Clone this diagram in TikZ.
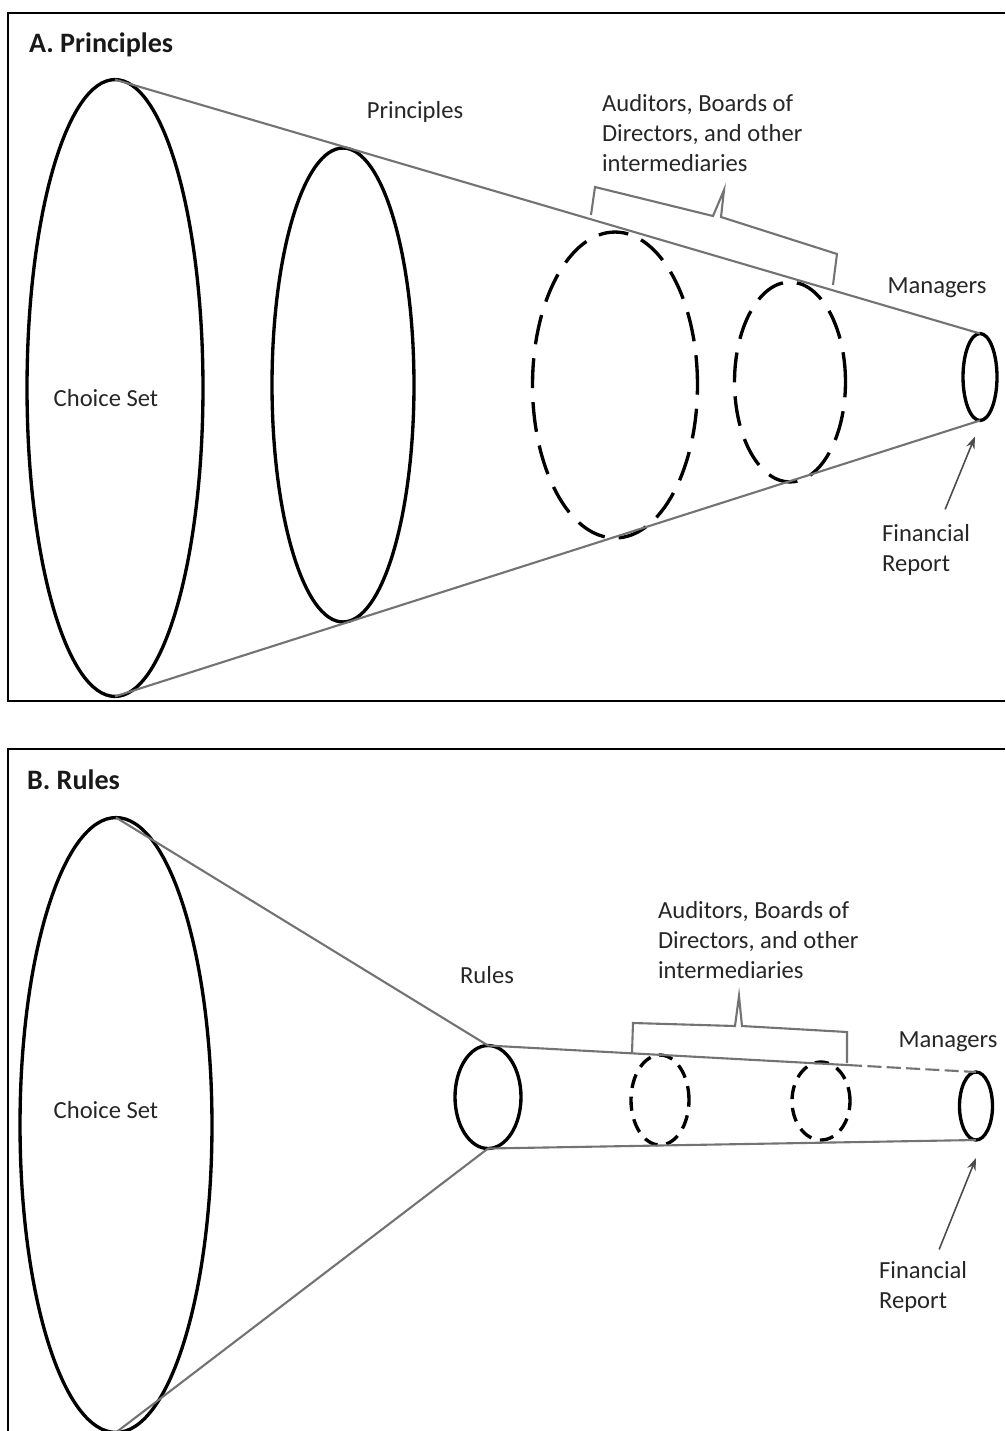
\documentclass[tikz,border=0pt]{standalone}
\usepackage{fontspec}
\setmainfont{Carlito}
\usetikzlibrary{shapes.geometric,arrows.meta,calc}

\begin{document}
\begin{tikzpicture}[x=0.02cm, y=-0.02cm,
    oval/.style={ellipse, draw, line width=1.9pt, inner sep=0pt, outer sep=0pt},
    bigdash/.style={oval, dash pattern=on 17pt off 8pt},
    smalldash/.style={oval, dash pattern=on 8pt off 5pt},
    funnel/.style={draw=black!55, line width=1.2pt},
    bracket/.style={draw=black!55, line width=1.2pt},
    txt/.style={text=black!85, font=\fontsize{14}{17}\selectfont, align=left, inner sep=1pt},
    heading/.style={text=black!90, font=\fontsize{16}{19}\selectfont\bfseries, inner sep=1pt},
    panel/.style={line width=1.5pt},
    pointer/.style={draw=black!70, line width=0.9pt, -{Stealth[length=7pt,width=5pt]}}
  ]
  \useasboundingbox (0,0) rectangle (1005,1431);

  % Panel A: principles
  \draw[panel] (1005,13) -- (8,13) -- (8,701) -- (1005,701);
  \node[heading, anchor=west] (titA) at (27,45) {A. Principles};

  % Define the sets for A
  \node[oval, minimum width=3.52cm, minimum height=12.34cm] (chA) at (115,388) {};
  \node[oval, minimum width=2.84cm, minimum height=9.48cm] (prA) at (343,385) {};
  \node[bigdash, minimum width=3.30cm, minimum height=6.12cm] (auA) at (615,385) {};
  \node[bigdash, minimum width=2.22cm, minimum height=4.00cm] (boA) at (790,382) {};
  \node[oval, minimum width=0.68cm, minimum height=1.74cm] (mgA) at (980,377) {};

  % Define the edges for A
  \draw[funnel] (chA.north) -- (mgA.north);
  \draw[funnel] (chA.south) -- (mgA.south);
  \draw[bracket] (591,215) -- (595,187) -- (713,216) -- (724,190) -- (721,217) -- (837,254) -- (833,285);

  % Annotations for A
  \node[txt] (chAtxt) at (106,398) {Choice Set};
  \node[txt] (prAtxt) at (415,112) {Principles};
  \node[txt, anchor=west] (auAtxt) at (600,133) {Auditors, Boards of\\Directors, and other\\intermediaries};
  \node[txt] (mgAtxt) at (937,288) {Managers};
  \node[txt, anchor=west] (finA) at (880,550) {Financial\\Report};
  \draw[pointer] ([shift={(0.38cm,0.26cm)}]finA.north) -- ([shift={(-0.1cm,-0.32cm)}]mgA.south);

  % Panel B: rules
  \draw[panel] (1005,749) -- (8,749) -- (8,1431);
  \node[heading, anchor=west] (titB) at (25,780) {B. Rules};

  % Define the sets for B
  \node[oval, minimum width=3.84cm, minimum height=12.30cm] (chB) at (116,1125) {};
  \node[oval, minimum width=1.32cm, minimum height=2.06cm] (ruB) at (488,1097) {};
  \node[smalldash, minimum width=1.16cm, minimum height=1.80cm] (auB) at (660,1100) {};
  \node[smalldash, minimum width=1.16cm, minimum height=1.56cm] (boB) at (821,1101) {};
  \node[oval, minimum width=0.66cm, minimum height=1.36cm] (mgB) at (976,1106) {};

  % Define the edges for B
  \draw[funnel] (chB.north) -- (ruB.north);
  \draw[funnel] (chB.south) -- (ruB.south);
  \coordinate (brkB) at ($(ruB.north)!0.738!(mgB.north)$);
  \draw[funnel] (ruB.north) -- (brkB);
  \draw[funnel, dash pattern=on 8pt off 3pt] (brkB) -- (mgB.north);
  \draw[funnel] (ruB.south) -- (mgB.south);
  \draw[bracket] (632,1053) -- (633,1023) -- (735,1026) -- (739,996) -- (742,1026) -- (847,1032) -- (847,1063);

  % Annotations for B
  \node[txt] (chBtxt) at (106,1110) {Choice Set};
  \node[txt] (ruBtxt) at (487,975) {Rules};
  \node[txt, anchor=west] (auBtxt) at (656,940) {Auditors, Boards of\\Directors, and other\\intermediaries};
  \node[txt] (mgBtxt) at (948,1042) {Managers};
  \node[txt, anchor=west] (finB) at (877,1287) {Financial\\Report};
  \draw[pointer] ([shift={(0.32cm,0.2cm)}]finB.north) -- ([yshift=-0.36cm]mgB.south);
\end{tikzpicture}
\end{document}
